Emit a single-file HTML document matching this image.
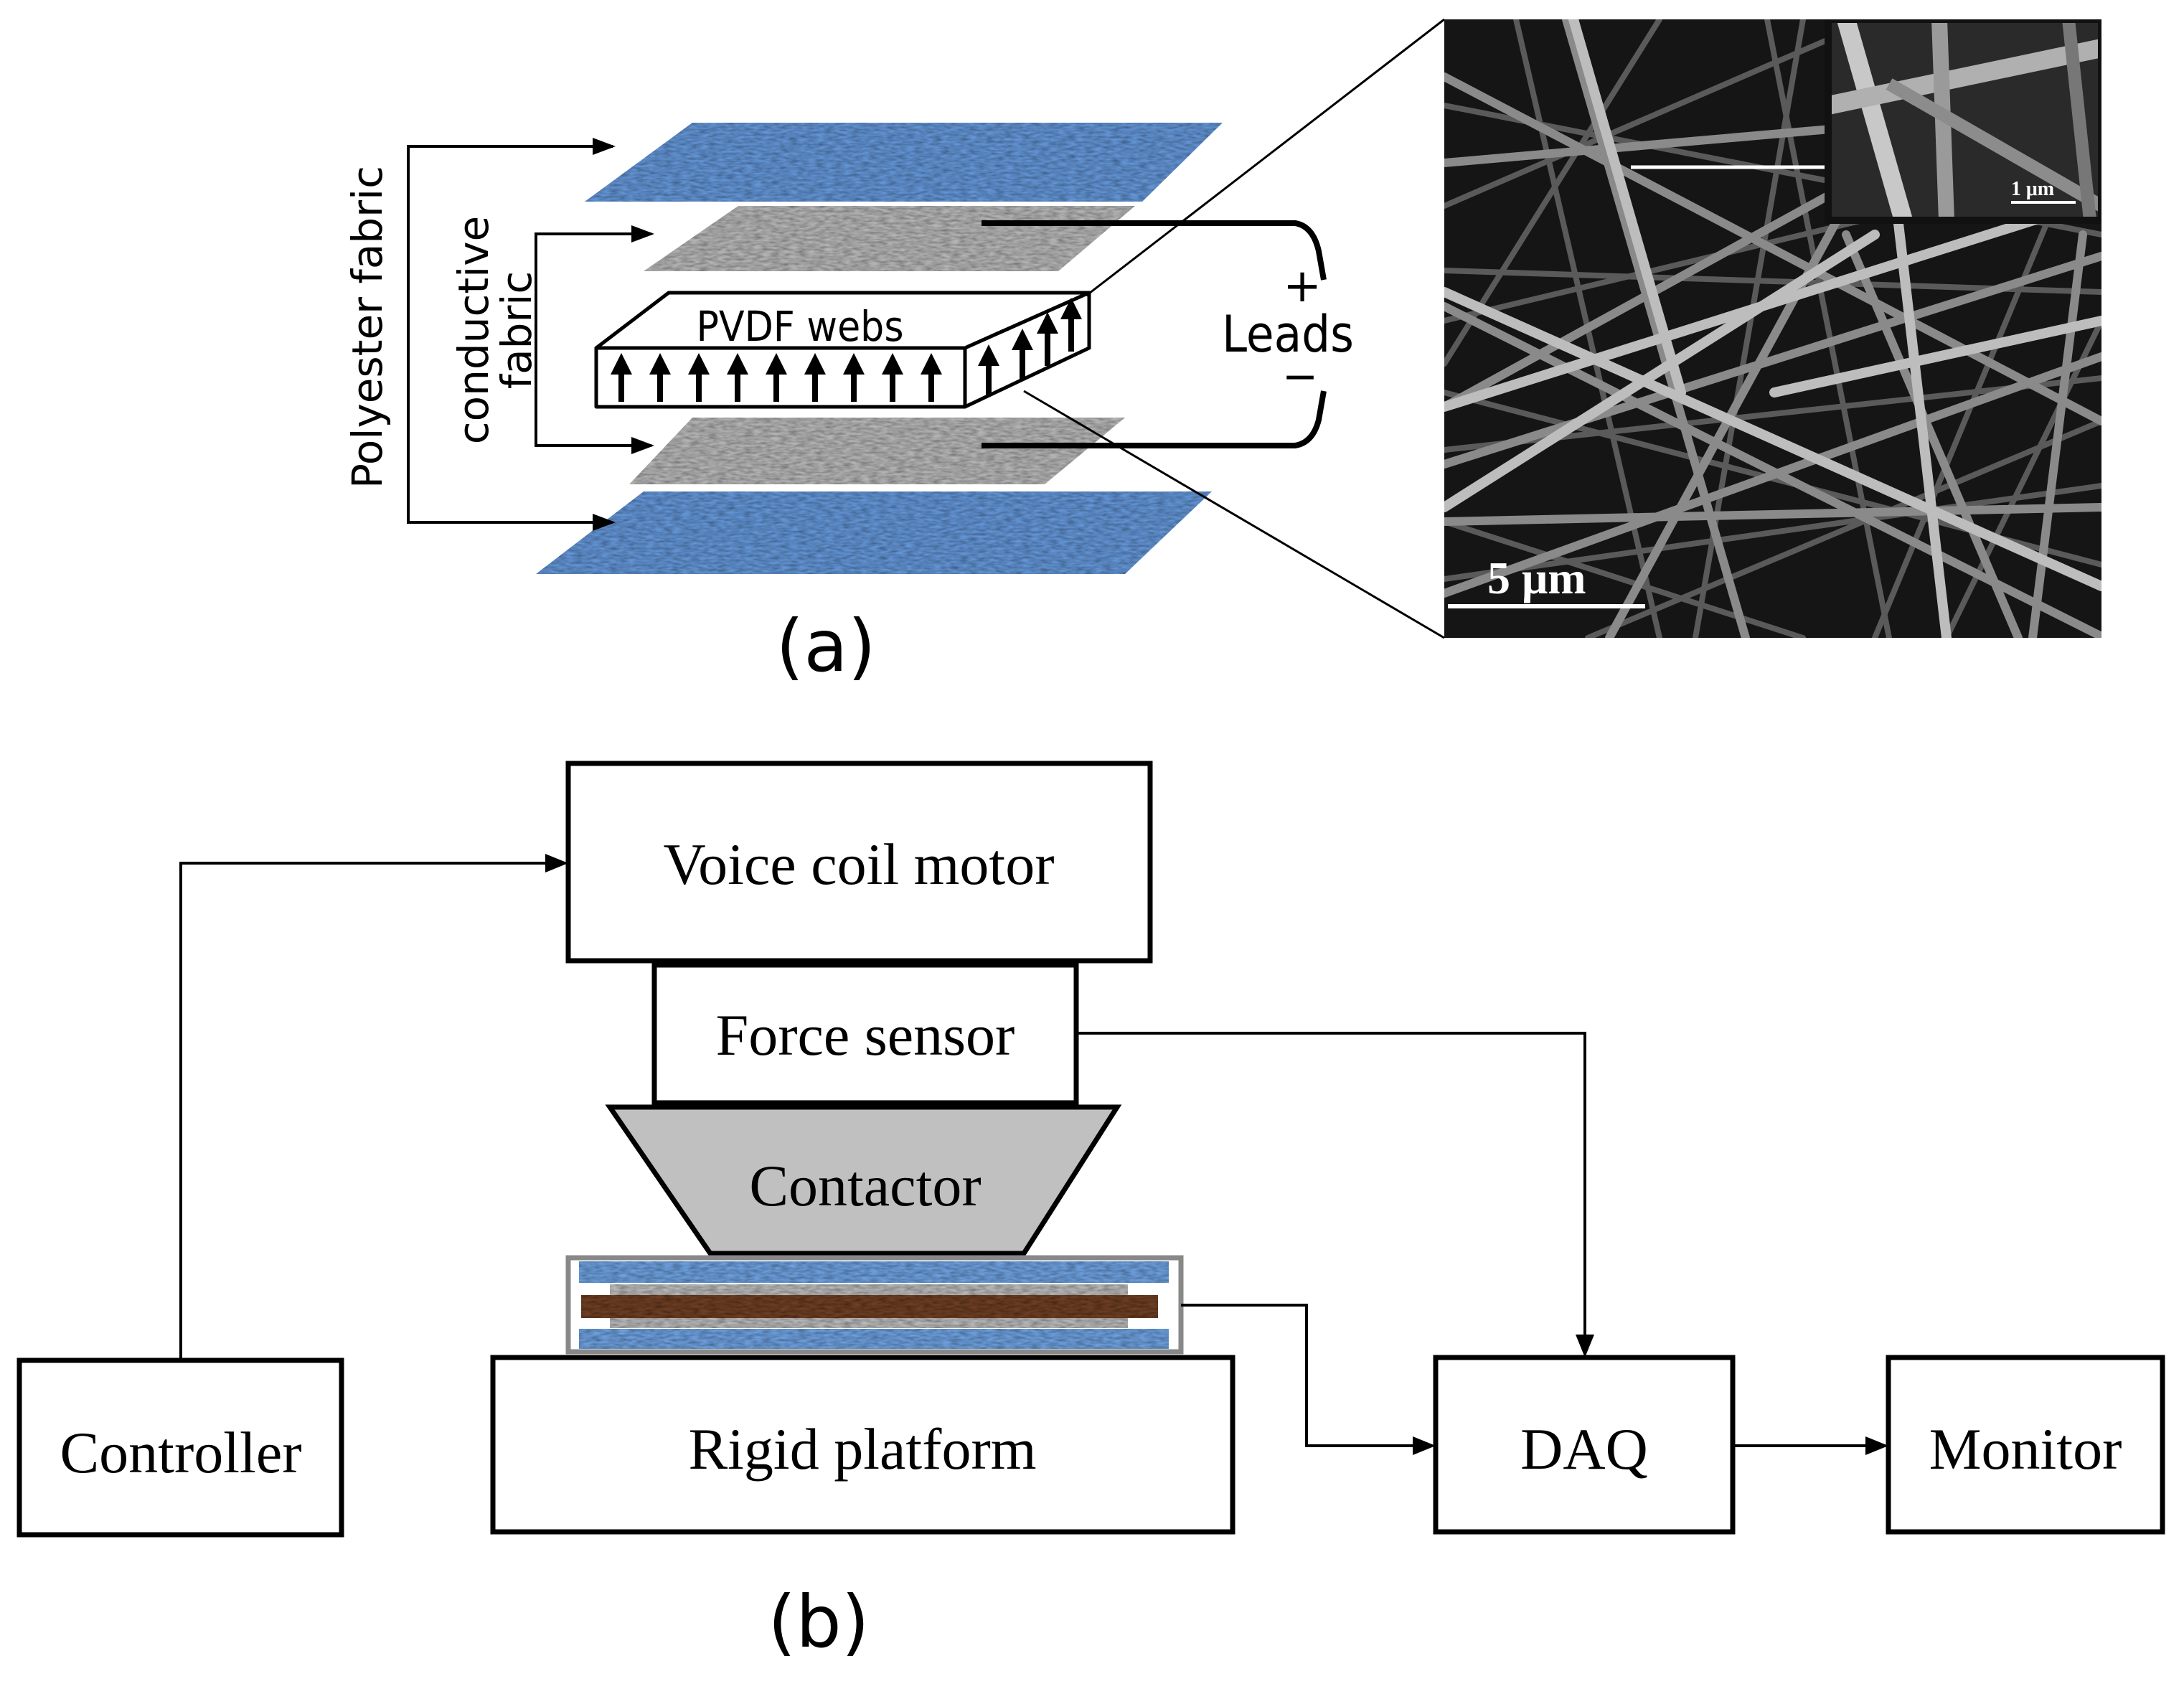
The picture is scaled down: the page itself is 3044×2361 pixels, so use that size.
<!DOCTYPE html>
<html><head><meta charset="utf-8"><style>
html,body{margin:0;padding:0;background:#fff}
svg{display:block}
</style></head><body>
<svg width="3044" height="2361" viewBox="0 0 3044 2361" xmlns="http://www.w3.org/2000/svg">
<defs>
<filter id="noise" x="0" y="0" width="100%" height="100%">
<feTurbulence type="fractalNoise" baseFrequency="0.08 0.3" numOctaves="2" seed="3" result="n"/>
<feColorMatrix in="n" type="matrix" values="0 0 0 0 0  0 0 0 0 0  0 0 0 0 0  0 0 0 0.9 -0.2" result="a"/>
<feComposite in="a" in2="SourceGraphic" operator="in" result="c"/>
<feMerge><feMergeNode in="SourceGraphic"/><feMergeNode in="c"/></feMerge>
</filter>
</defs>

<!-- ===== Part (a) ===== -->
<g filter="url(#noise)">
<polygon points="965,171 1704,171 1592,281 815,281" fill="#6394d4"/>
<polygon points="1029,287 1582,287 1475,378 897,378" fill="#b4b4b4"/>
<polygon points="965,582 1568,582 1456,675 877,675" fill="#b4b4b4"/>
<polygon points="897,685 1689,685 1568,800 747,800" fill="#6394d4"/>
</g>

<g stroke="#000" stroke-width="4" fill="none">
<polyline points="854,204 569,204 569,728 854,728"/>
<polyline points="908,326 747,326 747,621 908,621"/>
</g>
<g fill="#000">
<polygon points="858,204 826,192 826,216"/>
<polygon points="858,728 826,716 826,740"/>
<polygon points="912,326 880,314 880,338"/>
<polygon points="912,621 880,609 880,633"/>
</g>
<text transform="translate(532,456) rotate(-90)" text-anchor="middle" font-family="DejaVu Sans, sans-serif" font-size="58">Polyester fabric</text>
<text transform="translate(680,460) rotate(-90)" text-anchor="middle" font-family="DejaVu Sans, sans-serif" font-size="58">conductive</text>
<text transform="translate(740,460) rotate(-90)" text-anchor="middle" font-family="DejaVu Sans, sans-serif" font-size="58">fabric</text>

<g stroke="#000" stroke-width="8" fill="none">
<path d="M1368,311 L1805,311 Q1830,315 1838,350 L1845,390"/>
<path d="M1368,621 L1805,621 Q1830,617 1838,585 L1845,545"/>
</g>
<text x="1815" y="420" text-anchor="middle" font-family="DejaVu Sans, sans-serif" font-size="64">+</text>
<text x="1795" y="490" text-anchor="middle" font-family="DejaVu Sans Condensed, DejaVu Sans, sans-serif" font-size="70">Leads</text>
<text x="1812" y="545" text-anchor="middle" font-family="DejaVu Sans, sans-serif" font-size="60">−</text>

<!-- PVDF box -->
<g stroke="#000" stroke-width="5" fill="#fff" stroke-linejoin="round">
<polygon points="831,485 932,408 1518,408 1345,485"/>
<polygon points="1345,485 1518,408 1518,485 1345,567"/>
<rect x="831" y="485" width="514" height="82"/>
</g>
<text x="1115" y="475" text-anchor="middle" font-family="DejaVu Sans Condensed, DejaVu Sans, sans-serif" font-size="58">PVDF webs</text>
<g stroke="#000" stroke-width="8">
<line x1="866" y1="560" x2="866" y2="518"/><line x1="920" y1="560" x2="920" y2="518"/><line x1="974" y1="560" x2="974" y2="518"/><line x1="1028" y1="560" x2="1028" y2="518"/><line x1="1082" y1="560" x2="1082" y2="518"/><line x1="1136" y1="560" x2="1136" y2="518"/><line x1="1190" y1="560" x2="1190" y2="518"/><line x1="1244" y1="560" x2="1244" y2="518"/><line x1="1298" y1="560" x2="1298" y2="518"/>
<line x1="1378" y1="552" x2="1378" y2="506"/><line x1="1425" y1="530" x2="1425" y2="484"/><line x1="1460" y1="510" x2="1460" y2="461"/><line x1="1493" y1="490" x2="1493" y2="441"/>
</g>
<g fill="#000">
<polygon points="851,522 881,522 866,492"/><polygon points="905,522 935,522 920,492"/><polygon points="959,522 989,522 974,492"/><polygon points="1013,522 1043,522 1028,492"/><polygon points="1067,522 1097,522 1082,492"/><polygon points="1121,522 1151,522 1136,492"/><polygon points="1175,522 1205,522 1190,492"/><polygon points="1229,522 1259,522 1244,492"/><polygon points="1283,522 1313,522 1298,492"/>
<polygon points="1363,510 1393,510 1378,480"/><polygon points="1410,488 1440,488 1425,458"/><polygon points="1445,465 1475,465 1460,435"/><polygon points="1478,445 1508,445 1493,415"/>
</g>

<g stroke="#000" stroke-width="3">
<line x1="2013" y1="27" x2="1514" y2="412"/>
<line x1="2013" y1="889" x2="1427" y2="545"/>
</g>
<text x="1151" y="935" text-anchor="middle" font-family="DejaVu Sans, sans-serif" font-size="100">(a)</text>

<!-- SEM image -->
<svg x="2013" y="27" width="916" height="862" viewBox="0 0 916 862">
<rect width="916" height="862" fill="#151515"/>
<g stroke-linecap="round">
<g stroke="#5a5a5a" stroke-width="8">
<line x1="0" y1="120" x2="916" y2="300"/><line x1="0" y1="420" x2="916" y2="200"/><line x1="100" y1="0" x2="300" y2="862"/>
<line x1="0" y1="600" x2="916" y2="500"/><line x1="500" y1="0" x2="350" y2="862"/><line x1="0" y1="780" x2="916" y2="650"/>
<line x1="700" y1="862" x2="916" y2="420"/><line x1="0" y1="260" x2="600" y2="0"/><line x1="200" y1="862" x2="916" y2="560"/>
<line x1="0" y1="700" x2="500" y2="862"/><line x1="620" y1="862" x2="450" y2="0"/><line x1="0" y1="350" x2="916" y2="380"/>
<line x1="0" y1="520" x2="916" y2="760"/><line x1="300" y1="0" x2="0" y2="480"/><line x1="916" y1="100" x2="600" y2="862"/>
</g>
<g stroke="#8a8a8a" stroke-width="12">
<line x1="0" y1="80" x2="916" y2="560"/><line x1="0" y1="540" x2="800" y2="100"/><line x1="170" y1="0" x2="420" y2="862"/>
<line x1="0" y1="620" x2="916" y2="330"/><line x1="0" y1="400" x2="916" y2="860"/><line x1="560" y1="300" x2="800" y2="862"/>
<line x1="0" y1="800" x2="916" y2="470"/><line x1="230" y1="862" x2="700" y2="0"/><line x1="0" y1="200" x2="916" y2="120"/>
<line x1="820" y1="862" x2="890" y2="300"/><line x1="0" y1="700" x2="916" y2="680"/>
</g>
<g stroke="#bdbdbd" stroke-width="14">
<line x1="0" y1="380" x2="916" y2="790"/><line x1="0" y1="540" x2="916" y2="250"/><line x1="180" y1="0" x2="330" y2="520"/>
<line x1="0" y1="680" x2="600" y2="300"/><line x1="460" y1="520" x2="916" y2="420"/><line x1="600" y1="0" x2="700" y2="862"/>
</g>
</g>
<rect x="535" y="0" width="381" height="280" fill="#2a2a2a"/>
<g stroke-linecap="butt">
<line x1="560" y1="0" x2="640" y2="280" stroke="#c8c8c8" stroke-width="26"/>
<line x1="535" y1="120" x2="916" y2="40" stroke="#b0b0b0" stroke-width="26"/>
<line x1="690" y1="0" x2="700" y2="280" stroke="#9a9a9a" stroke-width="22"/>
<line x1="620" y1="90" x2="916" y2="260" stroke="#8c8c8c" stroke-width="18"/>
<line x1="870" y1="0" x2="900" y2="280" stroke="#777" stroke-width="18"/>
</g>
<rect x="535" y="0" width="381" height="280" fill="none" stroke="#111" stroke-width="10"/>
<line x1="260" y1="206" x2="530" y2="206" stroke="#fff" stroke-width="5"/>
<line x1="790" y1="255" x2="880" y2="255" stroke="#fff" stroke-width="4"/>
<text x="820" y="245" text-anchor="middle" font-family="Liberation Serif, serif" font-size="28" font-weight="bold" fill="#fff">1 μm</text>
<line x1="5" y1="818" x2="280" y2="818" stroke="#fff" stroke-width="6"/>
<text x="60" y="800" font-family="Liberation Serif, serif" font-size="64" font-weight="bold" fill="#fff">5 μm</text>
</svg>

<!-- ===== Part (b) ===== -->
<g stroke="#000" stroke-width="7" fill="#fff">
<rect x="792" y="1064" width="811" height="275"/>
<rect x="912" y="1345" width="588" height="192"/>
<polygon points="850,1543 1557,1543 1427,1747 990,1747" fill="#c0c0c0"/>
<rect x="687" y="1892" width="1031" height="243"/>
<rect x="27" y="1896" width="449" height="243"/>
<rect x="2001" y="1892" width="414" height="243"/>
<rect x="2632" y="1892" width="382" height="243"/>
</g>
<rect x="792" y="1753" width="854" height="131" fill="#fff" stroke="#888" stroke-width="7"/>
<g filter="url(#noise)">
<rect x="807" y="1758" width="822" height="30" fill="#6d9fdc"/>
<rect x="850" y="1790" width="722" height="15" fill="#b8b8b8"/>
<rect x="810" y="1805" width="804" height="32" fill="#6e4026"/>
<rect x="850" y="1837" width="722" height="14" fill="#b8b8b8"/>
<rect x="807" y="1852" width="822" height="28" fill="#6d9fdc"/>
</g>

<g stroke="#000" stroke-width="4" fill="none">
<polyline points="252,1896 252,1203 770,1203"/>
<polyline points="1500,1440 2209,1440 2209,1865"/>
<polyline points="1646,1819 1821,1819 1821,2015 1975,2015"/>
<line x1="2415" y1="2015" x2="2606" y2="2015"/>
</g>
<g fill="#000">
<polygon points="792,1203 760,1190 760,1216"/>
<polygon points="2209,1892 2196,1860 2222,1860"/>
<polygon points="2001,2015 1969,2002 1969,2028"/>
<polygon points="2632,2015 2600,2002 2600,2028"/>
</g>

<g font-family="Liberation Serif, serif" font-size="82" text-anchor="middle">
<text x="1197" y="1232">Voice coil motor</text>
<text x="1206" y="1470">Force sensor</text>
<text x="1206" y="1680">Contactor</text>
<text x="1202" y="2047">Rigid platform</text>
<text x="252" y="2052">Controller</text>
<text x="2208" y="2047">DAQ</text>
<text x="2823" y="2047">Monitor</text>
</g>
<text x="1141" y="2295" text-anchor="middle" font-family="DejaVu Sans, sans-serif" font-size="100">(b)</text>
</svg>
</body></html>
